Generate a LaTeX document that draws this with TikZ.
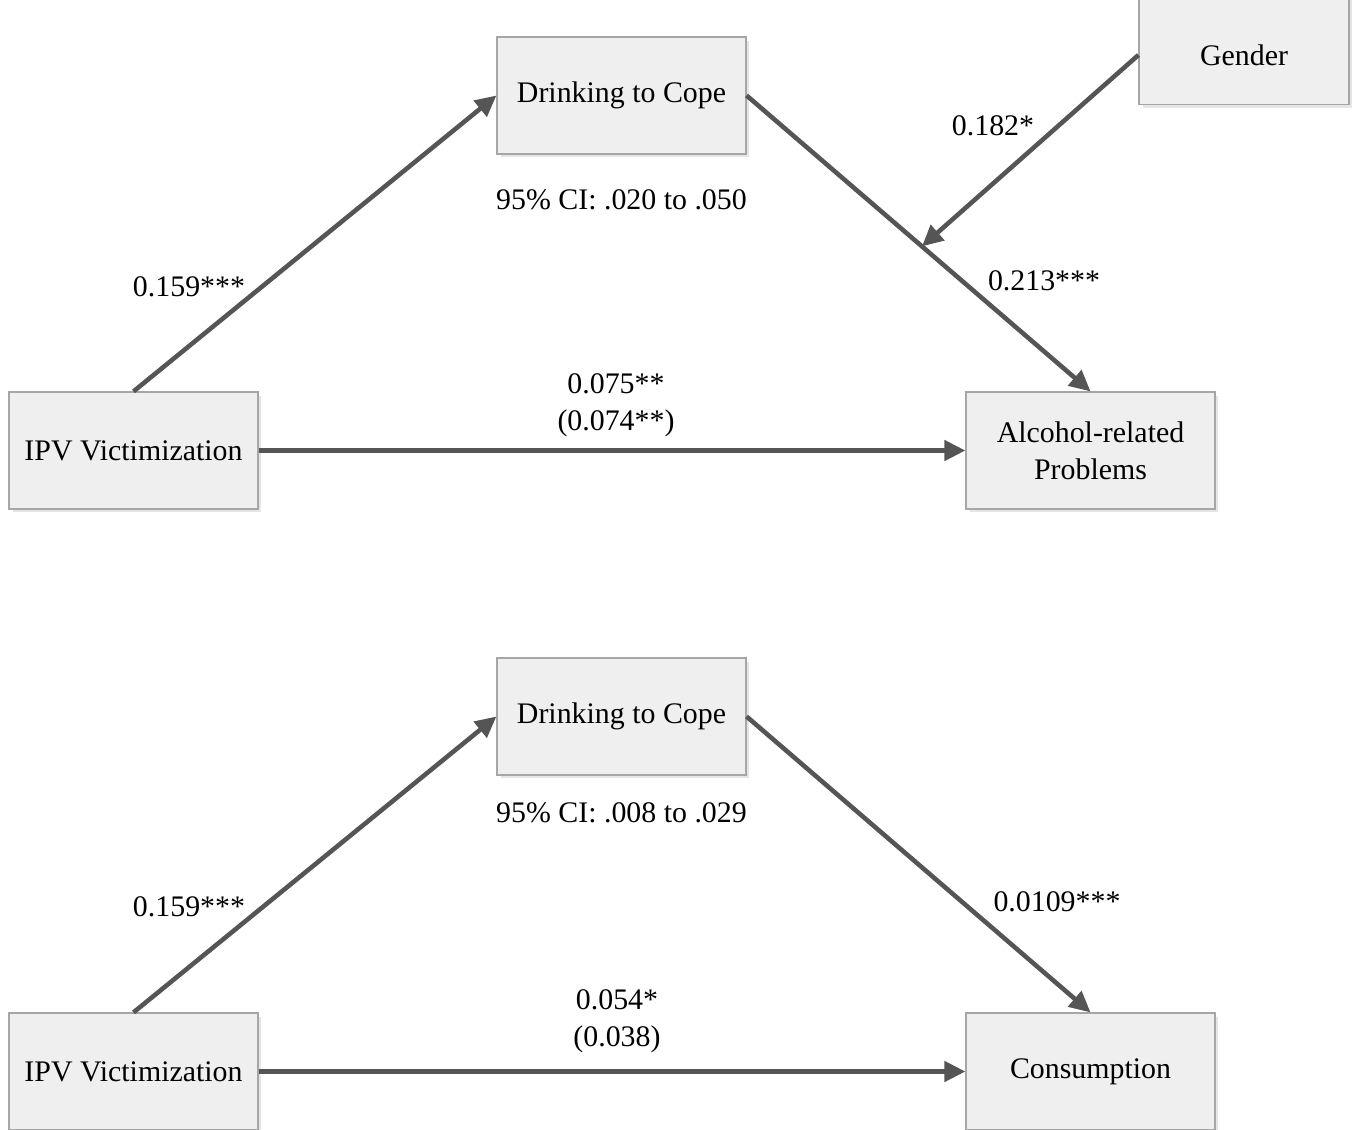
\documentclass[tikz,border=0pt]{standalone}
\usepackage{fontspec}
\setmainfont{Liberation Serif}
\usepackage{xcolor}
\usepackage{tikz}
\usetikzlibrary{arrows.meta,positioning,calc,shadows}
\definecolor{BoxFill}{HTML}{EFEFEF}
\definecolor{BoxLine}{HTML}{A6A6A6}
\definecolor{PathGray}{HTML}{555555}

\tikzset{
  varbox/.style={draw=BoxLine,fill=BoxFill,line width=0.7pt,minimum width=4.98cm,minimum height=2.34cm,
    align=center,font=\fontsize{17}{21}\selectfont,
    drop shadow={shadow xshift=0.07cm,shadow yshift=-0.07cm,fill=black!10,opacity=1}},
  pathlbl/.style={font=\fontsize{17}{21}\selectfont,align=center},
  effect/.style={draw=PathGray,line width=2.6pt,-{Triangle[length=0.42cm,width=0.4cm]}}
}

\begin{document}
\begin{tikzpicture}[x=0.02cm,y=-0.02cm]
		\useasboundingbox (0,0) rectangle (1355,1129);
		% upper model
		\node[varbox] (ipv1) at (133.5,450.5) {IPV Victimization};
		\node[varbox] (dc1) at (621.5,95.5) {\raisebox{-0.07cm}{Drinking to Cope}};
		\node[varbox,minimum width=4.2cm] (gen) at (1244,46) {};
		\node[pathlbl] (genlbl) at (1244,55) {Gender};
		\node[varbox] (arp) at (1090.5,450.5) {Alcohol-related\\Problems};
		\draw[effect] (ipv1.north) -- (dc1.west);
		\draw[effect] (dc1.east) -- (arp.north) coordinate[pos=0.51] (mod);
		\draw[effect] (gen.west|-genlbl) -- (mod);
		\draw[effect] (ipv1.east) -- (arp.west);
		\node[pathlbl] (a1) at (189,287) {0.159***};
		\node[pathlbl] (ci1) at (621.5,200) {95\% CI: .020 to .050};
		\node[pathlbl] (w1) at (993,126) {0.182*};
		\node[pathlbl] (b1) at (1044,281) {0.213***};
		\node[pathlbl] (c1) at (616,405) {0.075**\\(0.074**)};
		% lower model
		\node[varbox] (ipv2) at (133.5,1071.5) {IPV Victimization};
		\node[varbox] (dc2) at (621.5,716.5) {\raisebox{-0.07cm}{Drinking to Cope}};
		\node[varbox] (cons) at (1090.5,1071.5) {Consumption};
		\draw[effect] (ipv2.north) -- (dc2.west);
		\draw[effect] (dc2.east) -- (cons.north);
		\draw[effect] (ipv2.east) -- (cons.west);
		\node[pathlbl] (a2) at (189,907) {0.159***};
		\node[pathlbl] (ci2) at (621.5,813) {95\% CI: .008 to .029};
		\node[pathlbl] (b2) at (1057,902) {0.0109***};
		\node[pathlbl] (c2) at (617,1021) {0.054*\\(0.038)};
	\end{tikzpicture}
\end{document}
